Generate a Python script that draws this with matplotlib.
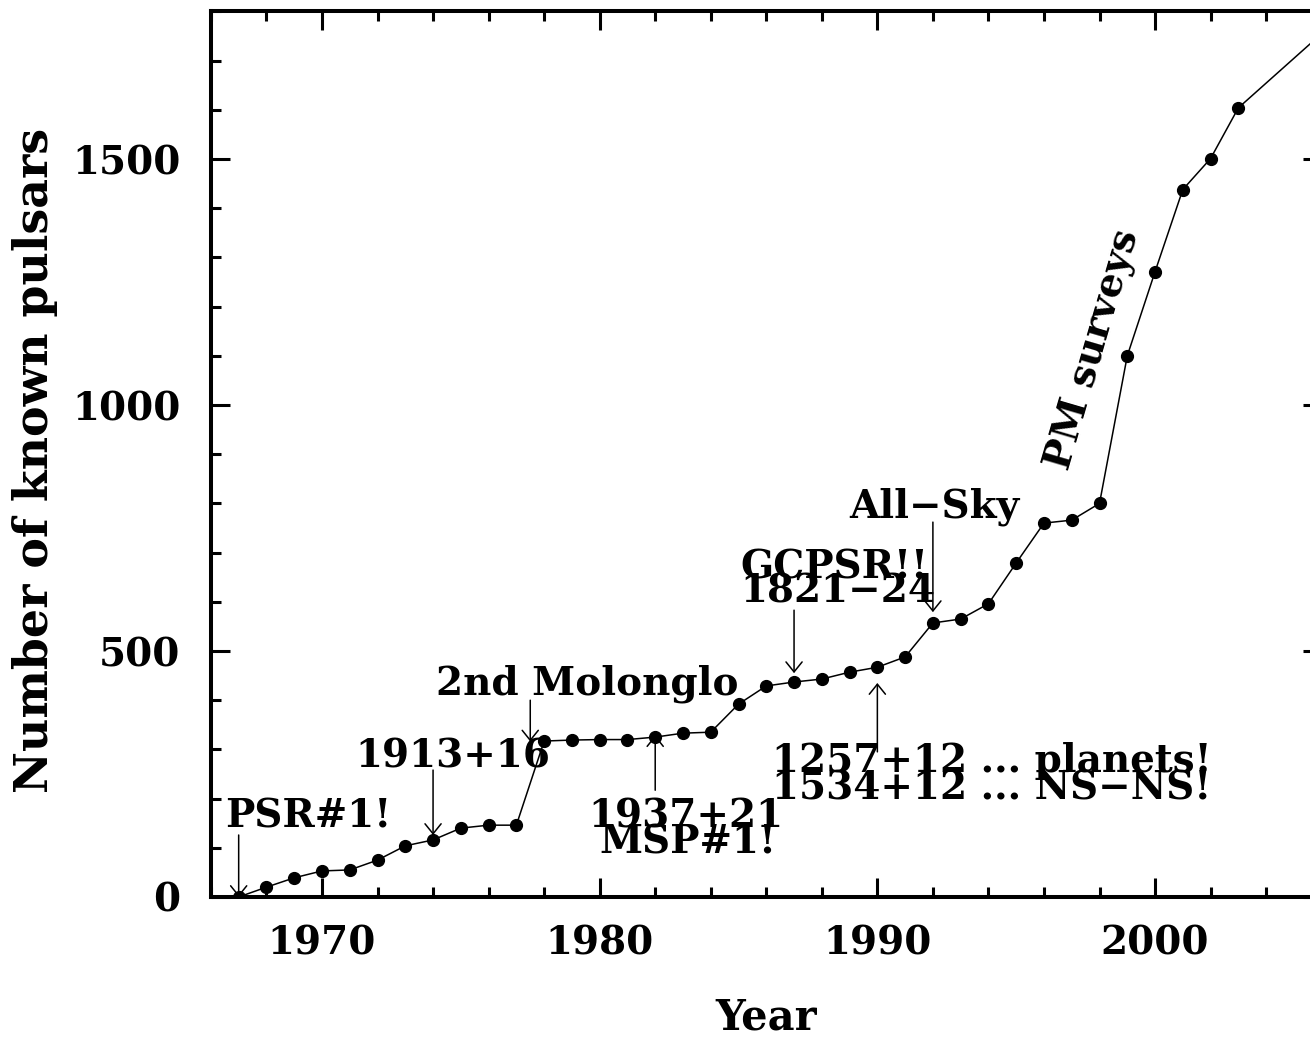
import matplotlib
matplotlib.use('Agg')
import matplotlib.pyplot as plt
from matplotlib.ticker import MultipleLocator

# number of known pulsars per year
years = [1967, 1968, 1969, 1970, 1971, 1972, 1973, 1974, 1975, 1976,
         1977, 1978, 1979, 1980, 1981, 1982, 1983, 1984, 1985, 1986,
         1987, 1988, 1989, 1990, 1991, 1992, 1993, 1994, 1995, 1996,
         1997, 1998, 1999, 2000, 2001, 2002, 2003, 2006]
n_psr = [0, 20, 39, 53, 55, 75, 104, 116, 140, 146,
         146, 317, 319, 320, 320, 325, 333, 335, 392, 429,
         437, 443, 457, 467, 488, 557, 565, 596, 679, 760,
         766, 800, 1100, 1271, 1438, 1501, 1604, 1755]

# arrows: (x, tail_y, head_y)
arrows = [(1967, 126, 0), (1974, 258, 126), (1977.5, 400, 316),
          (1982, 217, 329), (1987, 583, 455), (1992, 762, 579),
          (1990, 295, 435)]

# labels: (text, x, baseline y)
labels = [('PSR#1!', 1966.5, 142), ('1913+16', 1971.2, 264),
          ('2nd Molonglo', 1974.1, 411), ('1937+21', 1979.6, 142),
          ('MSP#1!', 1980.0, 89), ('GCPSR!!', 1985.05, 648),
          ('1821\u221224', 1985.05, 598), ('All\u2212Sky', 1989.0, 772),
          ('1257+12 ... planets!', 1986.2, 254),
          ('1534+12 ... NS\u2212NS!', 1986.2, 198)]

plt.rcParams['font.family'] = ['DejaVu Serif']
plt.rcParams['font.weight'] = 'bold'

fig = plt.figure(figsize=(13.1, 10.4), dpi=100)
ax = fig.add_axes([0.161, 0.1375, 0.8479, 0.8515])

ax.plot(years, n_psr, '-', color='black', lw=1.1, marker='o', ms=8.5)

for x, y0, y1 in arrows:
    ax.annotate('', xy=(x, y1), xytext=(x, y0),
                arrowprops=dict(arrowstyle='->,head_length=0.36,head_width=0.29',
                                mutation_scale=20, lw=1.1, color='black',
                                shrinkA=0, shrinkB=0))

for txt, x, y in labels:
    ax.text(x, y, txt, ha='left', va='baseline', fontsize=28,
            fontweight='bold')

ax.text(1997.75, 1112, 'PM surveys', rotation=73.7, ha='center', va='center',
        rotation_mode='anchor', fontsize=28, fontweight='bold')

ax.set_xlim(1966, 2006)
ax.set_ylim(0, 1800)
ax.xaxis.set_major_locator(MultipleLocator(10))
ax.xaxis.set_minor_locator(MultipleLocator(2))
ax.yaxis.set_major_locator(MultipleLocator(500))
ax.yaxis.set_minor_locator(MultipleLocator(100))
ax.tick_params(which='both', direction='in', top=True, right=True,
               labelsize=28, width=2.2)
ax.tick_params(which='major', length=14, pad=20)
ax.tick_params(axis='y', which='major', pad=22)
ax.tick_params(which='minor', length=7)
for s in ax.spines.values():
    s.set_linewidth(2.9)

ax.set_xlabel('Year', fontsize=30, fontweight='bold')
ax.set_ylabel('Number of known pulsars', fontsize=33, fontweight='bold')
ax.xaxis.set_label_coords(0.5, -0.112)
ax.yaxis.set_label_coords(-0.158, 0.4935)
ax.yaxis.label.set_verticalalignment('center')

fig.savefig('out.png', dpi=100)
